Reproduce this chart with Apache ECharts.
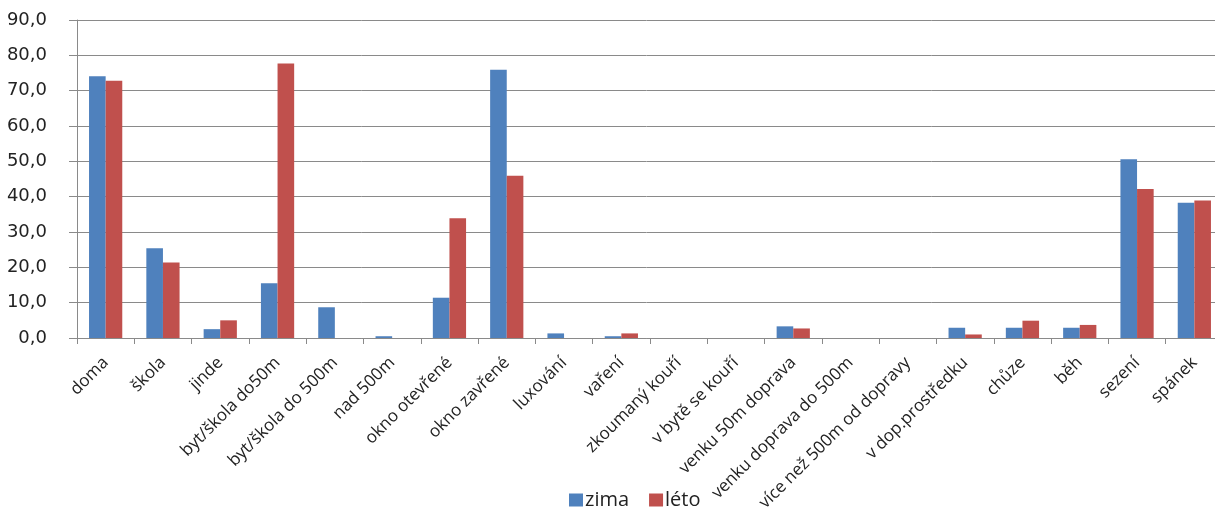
<!DOCTYPE html>
<html>
<head>
<meta charset="utf-8">
<script src="https://cdn.jsdelivr.net/npm/echarts@6/dist/echarts.min.js"></script>
<style>
html,body{margin:0;padding:0;background:#fff;}
#c{width:1215px;height:509px;}
</style>
</head>
<body>
<div id="c"></div>
<script>
const categories = ['doma','škola','jinde','byt/škola do50m','byt/škola do 500m','nad 500m','okno otevřené','okno zavřené','luxování','vaření','zkoumaný kouří','v bytě se kouří','venku 50m doprava','venku doprava do 500m','více než 500m od dopravy','v dop.prostředku','chůze','běh','sezení','spánek'];
const zima = [74.1,25.4,2.5,15.5,8.7,0.5,11.4,75.9,1.3,0.5,0,0,3.3,0,0,2.9,2.9,2.9,50.6,38.3];
const leto = [72.8,21.4,5.0,77.7,0,0,33.9,45.9,0,1.3,0,0,2.7,0,0,1.0,4.9,3.7,42.2,38.9];
const yTicks = {min:0, max:90, interval:10};

const chart = echarts.init(document.getElementById('c'), null, {renderer:'canvas'});
const gridCol = '#8a8a8a';
chart.setOption({
  backgroundColor:'#fff',
  animation:false,
  legend:{
    left:564, top:485,
    itemWidth:14, itemHeight:13, itemGap:20,
    icon:'rect',
    textStyle:{fontFamily:'Open Sans', fontSize:20, color:'#222', padding:[0,0,0,-3]},
    data:['zima','léto']
  },
  grid:{left:77, top:20, width:1146, height:318, containLabel:false, outerBoundsMode:'none'},
  xAxis:{
    type:'category',
    data:categories,
    axisLine:{lineStyle:{color:gridCol}},
    axisTick:{show:true, length:6, lineStyle:{color:gridCol}},
    axisLabel:{rotate:45, interval:0, margin:22, fontFamily:'Open Sans', fontSize:17, color:'#222'},
    splitLine:{show:false}
  },
  yAxis:{
    type:'value',
    min:yTicks.min, max:yTicks.max, interval:yTicks.interval,
    axisLine:{show:true, lineStyle:{color:gridCol}},
    axisTick:{show:true, length:8, lineStyle:{color:gridCol}},
    axisLabel:{margin:30, fontFamily:'DejaVu Sans', fontSize:18, color:'#222',
      formatter:v=>v.toFixed(1).replace('.',',')},
    splitLine:{lineStyle:{color:gridCol, width:1}}
  },
  series:[
    {name:'zima', type:'bar', data:zima, barGap:'0%', barCategoryGap:'42%', itemStyle:{color:'#4F81BD'}},
    {name:'léto', type:'bar', data:leto, barGap:'0%', barCategoryGap:'42%', itemStyle:{color:'#C0504D'}}
  ]
});
</script>
</body>
</html>
